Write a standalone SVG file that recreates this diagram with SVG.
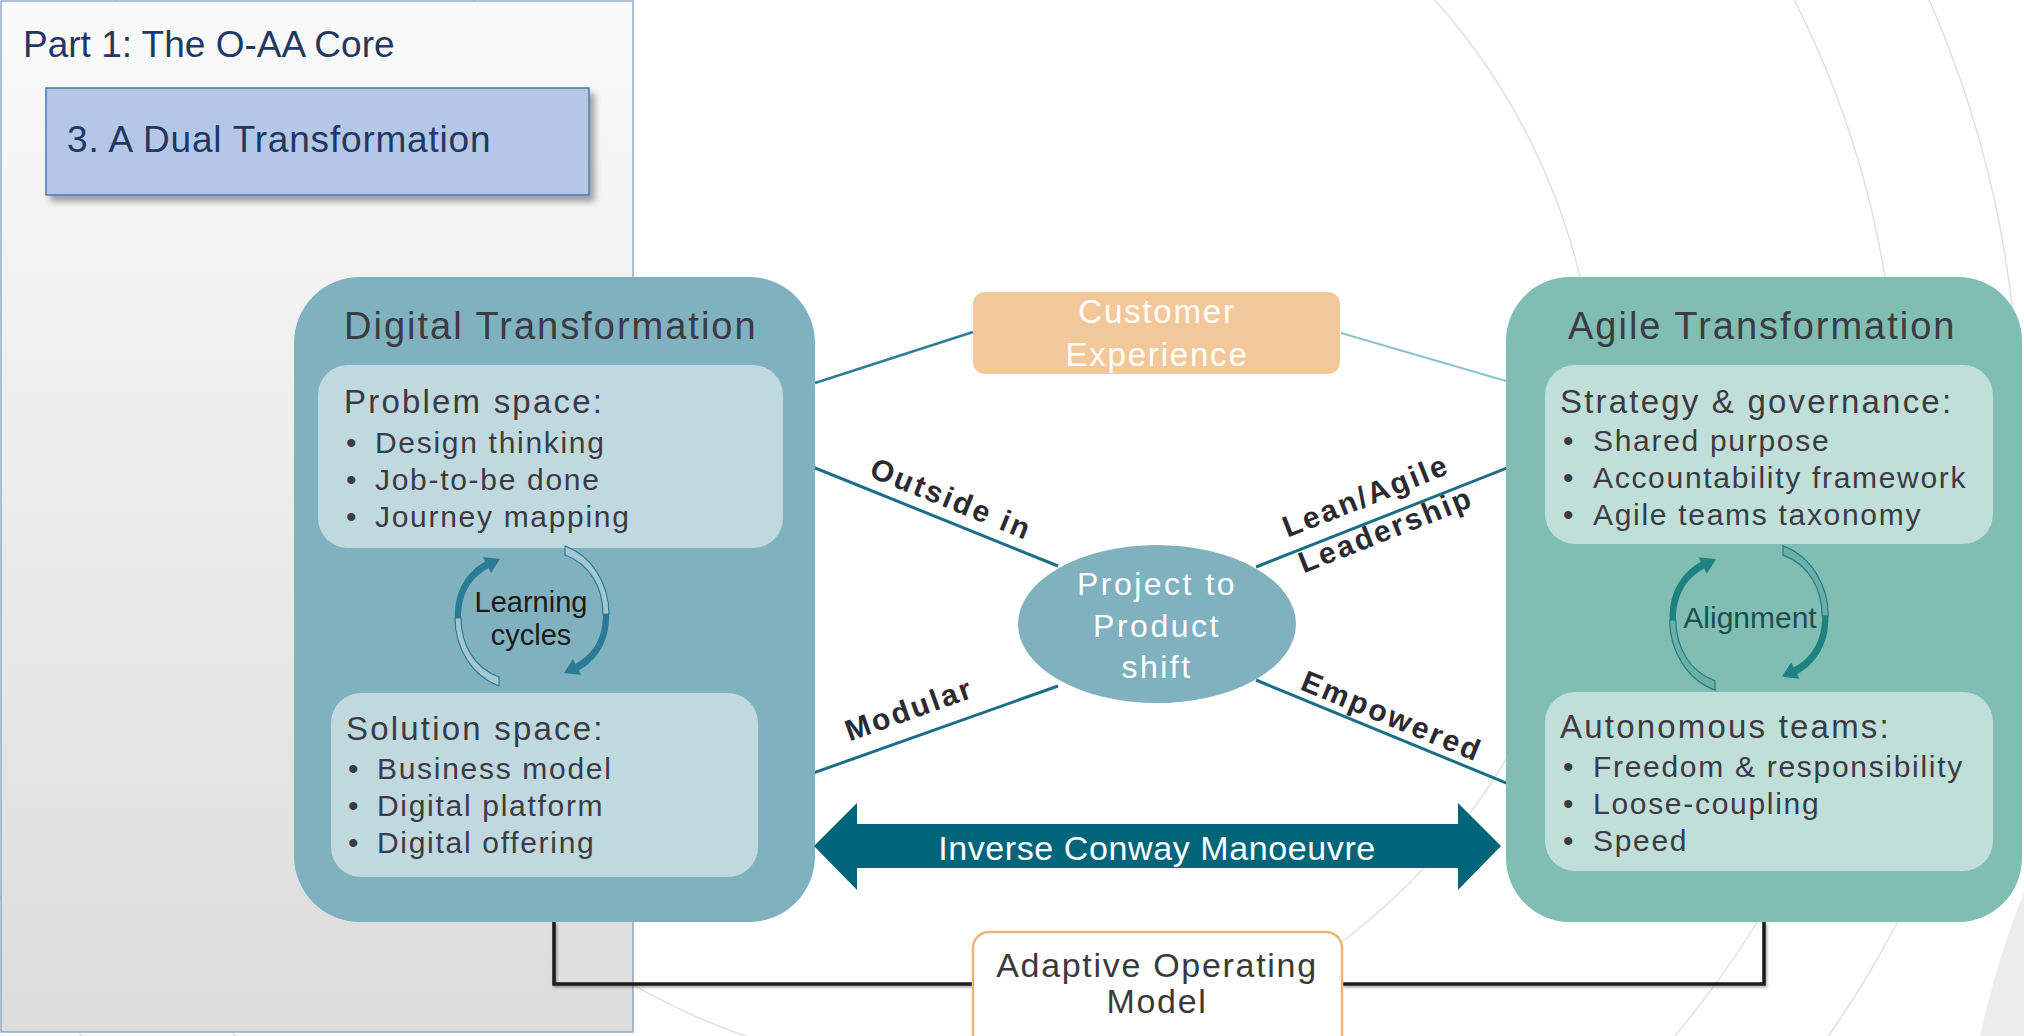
<svg xmlns="http://www.w3.org/2000/svg" xmlns:xlink="http://www.w3.org/1999/xlink" width="2024" height="1036" viewBox="0 0 2024 1036">
<style>
  text { font-family: "Liberation Sans", Arial, sans-serif; }
  .hd { font-size: 38px; letter-spacing: 2px; fill: #3c3b45; }
  .sub { font-size: 33px; letter-spacing: 2.2px; fill: #3c3b45; }
  .li { font-size: 30px; letter-spacing: 1.7px; fill: #3c3b45; }
  .lbl { font-size: 30px; font-weight: bold; letter-spacing: 2.5px; fill: #2b2a33; }
  .mid { text-anchor: middle; }
  .bg { fill: none; stroke: #e0e0e0; stroke-width: 1.5; }
  .spoke { fill: none; stroke: #1b6e86; stroke-width: 3; }
  .slide { font-size: 37px; fill: #1f3864; }
</style>
<defs>
  <linearGradient id="panelGrad" x1="0" y1="0" x2="0" y2="1">
    <stop offset="0" stop-color="#fafafa"/>
    <stop offset="1" stop-color="#dcdcdc"/>
  </linearGradient>
  <filter id="boxShadow" x="-10%" y="-20%" width="125%" height="150%">
    <feDropShadow dx="5" dy="6" stdDeviation="3" flood-color="#000" flood-opacity="0.35"/>
  </filter>
  <filter id="lineShadow" x="-5%" y="-50%" width="110%" height="200%">
    <feDropShadow dx="1.5" dy="2" stdDeviation="1" flood-color="#000" flood-opacity="0.3"/>
  </filter>
  <g id="cyc">
    <path d="M -33 70 C -60 60 -77 32 -77 2 L -71 2 C -71 28 -58 52 -33 61 Z" stroke="currentColor" stroke-width="1.2"/>
    <path d="M -77 2 C -78 -24 -66 -44 -46 -55 L -43 -48 C -61 -39 -71 -22 -71 2 Z" fill="currentColor"/>
    <path d="M -32 -57 L -41 -43 L -49 -59 Z" fill="currentColor"/>
  </g>
  <g id="cycle">
    <use xlink:href="#cyc"/>
    <use xlink:href="#cyc" transform="rotate(180)"/>
  </g>
</defs>

<rect x="0" y="0" width="2024" height="1036" fill="#ffffff"/>

<g id="background">
  <circle class="bg" cx="955" cy="428" r="643"/>
  <circle class="bg" cx="955" cy="428" r="942"/>
  <circle class="bg" cx="955" cy="428" r="1064"/>
  <path d="M 2024 892 Q 1996 962 1980 1036 L 2024 1036 Z" fill="#ececec"/>
</g>

<g id="slide-panel">
  <rect x="1" y="1" width="632" height="1031" fill="url(#panelGrad)" stroke="#7f96bb" stroke-width="1.2"/>
  <text class="slide" x="23" y="57">Part 1: The O-AA Core</text>
  <g id="section-box">
    <rect x="46" y="88" width="543" height="107" fill="#b4c7e7" stroke="#5476ad" stroke-width="1.5" filter="url(#boxShadow)"/>
    <text class="slide" x="67" y="152" letter-spacing="0.8">3. A Dual Transformation</text>
  </g>
</g>

<g id="connectors">
  <path d="M 815 383 L 973 332" fill="none" stroke="#2d7e93" stroke-width="2.5"/>
  <path d="M 1341 333 L 1506 381" fill="none" stroke="#8cc1cf" stroke-width="2"/>
  <path class="spoke" d="M 783 455 L 1058 566"/>
  <path class="spoke" d="M 757 793 L 1058 686"/>
  <path class="spoke" d="M 1256 567 L 1545 453"/>
  <path class="spoke" d="M 1256 680 L 1545 799"/>
  <g filter="url(#lineShadow)">
    <path d="M 554 922 V 984 H 973" fill="none" stroke="#1a1a1a" stroke-width="3.5"/>
    <path d="M 1342 984 H 1764 V 922" fill="none" stroke="#1a1a1a" stroke-width="3.5"/>
  </g>
  <text class="lbl mid" transform="translate(943,519.5) rotate(22)" x="0" y="-12">Outside in</text>
  <text class="lbl mid" transform="translate(918,734) rotate(-19.6)" x="0" y="-16" letter-spacing="3.5">Modular</text>
  <text class="lbl mid" transform="translate(1381,518) rotate(-21.6)" x="-6" y="-16">Lean/Agile</text>
  <text class="lbl mid" transform="translate(1381,518) rotate(-21.6)" x="0" y="23">Leadership</text>
  <text class="lbl mid" transform="translate(1385,733) rotate(22.4)" x="0" y="-8">Empowered</text>
</g>

<g id="digital-transformation">
  <rect x="294" y="277" width="521" height="645" rx="66" fill="#80b1be"/>
  <text class="hd" x="344" y="339">Digital Transformation</text>
  <g id="problem-space">
    <rect x="318" y="365" width="465" height="183" rx="30" fill="#bfd9df"/>
    <text class="sub" x="344" y="413">Problem space:</text>
    <text class="li" x="346" y="453">•</text><text class="li" x="375" y="453">Design thinking</text>
    <text class="li" x="346" y="490">•</text><text class="li" x="375" y="490">Job-to-be done</text>
    <text class="li" x="346" y="527">•</text><text class="li" x="375" y="527">Journey mapping</text>
  </g>
  <g id="learning-cycles">
    <use xlink:href="#cycle" transform="translate(532,616)" fill="#a6c7d1" color="#2a7c96"/>
    <text class="mid" x="531" y="612" font-size="29" fill="#1a1a1a">Learning</text>
    <text class="mid" x="531" y="645" font-size="29" fill="#1a1a1a">cycles</text>
  </g>
  <g id="solution-space">
    <rect x="331" y="693" width="427" height="184" rx="30" fill="#bfd9df"/>
    <text class="sub" x="346" y="740">Solution space:</text>
    <text class="li" x="348" y="779">•</text><text class="li" x="377" y="779">Business model</text>
    <text class="li" x="348" y="816">•</text><text class="li" x="377" y="816">Digital platform</text>
    <text class="li" x="348" y="853">•</text><text class="li" x="377" y="853">Digital offering</text>
  </g>
</g>

<g id="agile-transformation">
  <rect x="1506" y="277" width="516" height="645" rx="64" fill="#80bdb2"/>
  <text class="hd" x="1568" y="339">Agile Transformation</text>
  <g id="strategy-governance">
    <rect x="1545" y="365" width="448" height="179" rx="30" fill="#c0dfd8"/>
    <text class="sub" x="1560" y="413">Strategy &amp; governance:</text>
    <text class="li" x="1563" y="451">•</text><text class="li" x="1593" y="451">Shared purpose</text>
    <text class="li" x="1563" y="488">•</text><text class="li" x="1593" y="488">Accountability framework</text>
    <text class="li" x="1563" y="525">•</text><text class="li" x="1593" y="525">Agile teams taxonomy</text>
  </g>
  <g id="alignment">
    <use xlink:href="#cycle" transform="translate(1749,618) scale(1.03)" fill="#6eaea8" color="#1f8281"/>
    <text class="mid" x="1750" y="628" font-size="30" fill="#1d4f4f">Alignment</text>
  </g>
  <g id="autonomous-teams">
    <rect x="1545" y="692" width="448" height="179" rx="30" fill="#c0dfd8"/>
    <text class="sub" x="1560" y="738">Autonomous teams:</text>
    <text class="li" x="1563" y="777">•</text><text class="li" x="1593" y="777">Freedom &amp; responsibility</text>
    <text class="li" x="1563" y="814">•</text><text class="li" x="1593" y="814">Loose-coupling</text>
    <text class="li" x="1563" y="851">•</text><text class="li" x="1593" y="851">Speed</text>
  </g>
</g>

<g id="customer-experience">
  <rect x="973" y="292" width="367" height="82" rx="12" fill="#f2c89a"/>
  <text class="mid" x="1157" y="323" font-size="33" letter-spacing="1.8" fill="#ffffff">Customer</text>
  <text class="mid" x="1157" y="366" font-size="33" letter-spacing="1.8" fill="#ffffff">Experience</text>
</g>

<g id="project-to-product">
  <ellipse cx="1157" cy="624" rx="139" ry="79" fill="#80b1be"/>
  <text class="mid" x="1157" y="595" font-size="32" letter-spacing="2.5" fill="#ffffff">Project to</text>
  <text class="mid" x="1157" y="637" font-size="32" letter-spacing="2.5" fill="#ffffff">Product</text>
  <text class="mid" x="1157" y="678" font-size="32" letter-spacing="2.5" fill="#ffffff">shift</text>
</g>

<g id="inverse-conway">
  <polygon points="814,846 857,803 857,824 1458,824 1458,803 1501,846 1458,890 1458,868 857,868 857,890" fill="#006579"/>
  <text class="mid" x="1157" y="860" font-size="34" letter-spacing="0.6" fill="#ffffff">Inverse Conway Manoeuvre</text>
</g>

<g id="adaptive-operating-model">
  <rect x="973" y="932" width="369" height="130" rx="16" fill="#ffffff" stroke="#f0b474" stroke-width="2.5"/>
  <text class="mid" x="1157" y="977" font-size="34" letter-spacing="1.7" fill="#3a3a3a">Adaptive Operating</text>
  <text class="mid" x="1157" y="1013" font-size="34" letter-spacing="1.7" fill="#3a3a3a">Model</text>
</g>
</svg>
